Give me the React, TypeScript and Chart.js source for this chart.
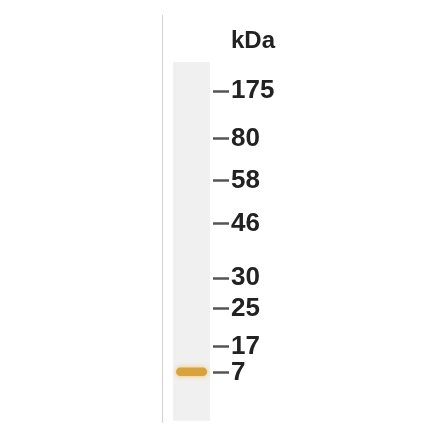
import { useEffect, useRef } from "react";
import { Chart, registerables } from "chart.js";

Chart.register(...registerables);

// marker ladder (Rf = fraction of lane length from the top)
const markerLabels = ["175", "80", "58", "46", "30", "25", "17", "7"];
const markerRf = [0.081, 0.214, 0.331, 0.451, 0.602, 0.688, 0.794, 0.866];
const unitLabel = "kDa";
const unitRf = -0.057;

// sample lane and its single band
const laneRf = [0, 1];
const bandRf = [0.851, 0.875];

const FONT = "'Liberation Sans', Arial, sans-serif";

const bandGlow = {
  id: "bandGlow",
  beforeDatasetDraw(chart: Chart, args: { index: number }) {
    if (args.index !== 0) return;
    const ctx = chart.ctx;
    ctx.save();
    ctx.shadowColor = "rgba(240,190,90,0.9)";
    ctx.shadowBlur = 5;
  },
  afterDatasetDraw(chart: Chart, args: { index: number }) {
    if (args.index !== 0) return;
    chart.ctx.restore();
  },
};

export default function App() {
  const canvasRef = useRef<HTMLCanvasElement | null>(null);

  useEffect(() => {
    document.body.style.margin = "0";
    if (!canvasRef.current) return;

    const ticksAll = [unitRf, ...markerRf];
    const labelsAll = [unitLabel, ...markerLabels];

    const chart = new Chart(canvasRef.current, {
      type: "bar",
      data: {
        datasets: [
          {
            label: "band",
            data: [{ x: 0.58, y: bandRf }],
            backgroundColor: "#d8a33c",
            borderRadius: 5,
            borderSkipped: false,
            grouped: false,
            categoryPercentage: 1,
            barPercentage: 0.61,
            order: 0,
          },
          {
            label: "lane",
            data: [{ x: 0.58, y: laneRf }],
            backgroundColor: "#f0f0f0",
            borderSkipped: false,
            grouped: false,
            categoryPercentage: 1,
            barPercentage: 0.725,
            order: 1,
          },
        ] as any,
      },
      options: {
        animation: false,
        responsive: true,
        maintainAspectRatio: false,
        layout: { padding: { left: 162, top: 15, bottom: 18, right: 0 } },
        plugins: { legend: { display: false }, tooltip: { enabled: false } },
        scales: {
          x: {
            type: "linear",
            min: 0,
            max: 1,
            offset: false,
            afterBuildTicks: (s: any) => {
              s.ticks = [{ value: 0 }];
            },
            ticks: { display: false },
            grid: {
              offset: false,
              drawTicks: false,
              lineWidth: 1,
              color: (c: any) => (c.tick && c.tick.value === 0 ? "#d2d2d2" : "transparent"),
            },
            border: { display: false },
          },
          y: {
            type: "linear",
            position: "right",
            reverse: true,
            min: -0.131,
            max: 1.006,
            afterBuildTicks: (s: any) => {
              s.ticks = ticksAll.map((v) => ({ value: v }));
            },
            afterFit: (s: any) => {
              s.width = 227;
              s.paddingTop = 0;
              s.paddingBottom = 0;
            },
            ticks: {
              autoSkip: false,
              padding: 2,
              color: "#222222",
              font: (c: any) =>
                c.index === 0
                  ? { family: FONT, size: 24, weight: "bold" }
                  : { family: FONT, size: 26, weight: "bold" },
              callback: (_v: any, i: number) => labelsAll[i],
            },
            grid: {
              drawOnChartArea: false,
              drawTicks: true,
              tickLength: 16,
              tickWidth: 2.5,
              tickColor: (c: any) => (c.index === 0 ? "transparent" : "#555555"),
            },
            border: { display: false },
          },
        },
      } as any,
      plugins: [bandGlow as any],
    });

    return () => {
      chart.destroy();
    };
  }, []);

  return (
    <div style={{ position: "relative", width: 440, height: 441, background: "#fff" }}>
      <canvas ref={canvasRef} />
    </div>
  );
}
